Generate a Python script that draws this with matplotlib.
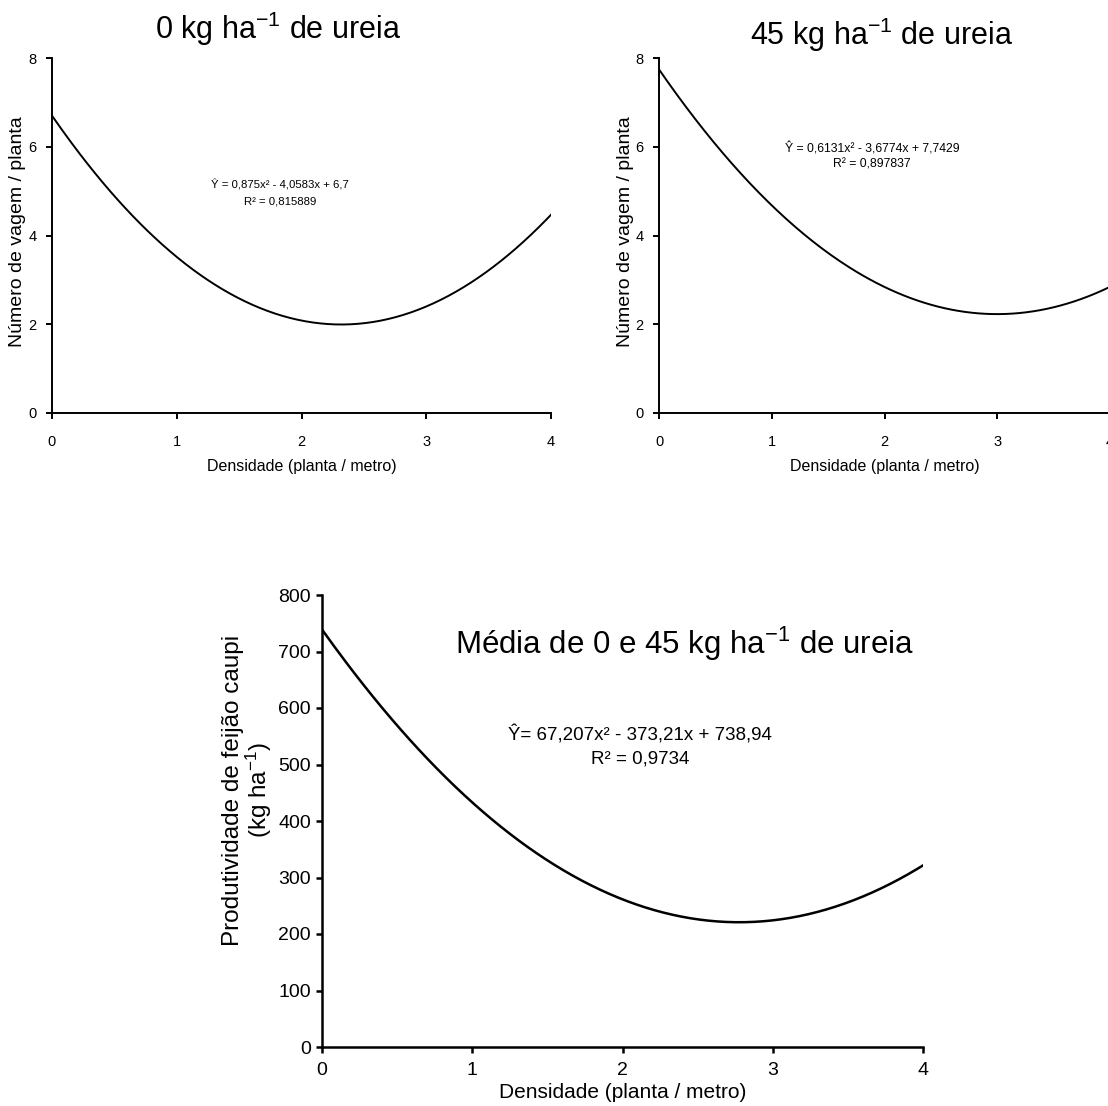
import numpy as np
import matplotlib
matplotlib.use("Agg")
import matplotlib.pyplot as plt

# fontes
plt.rcParams["font.family"] = ["Liberation Sans", "DejaVu Sans"]
plt.rcParams["mathtext.fontset"] = "custom"
plt.rcParams["mathtext.rm"] = "Liberation Sans"
plt.rcParams["mathtext.it"] = "Liberation Sans"

# dados: coeficientes das equações (a, b, c)
coef_0kg = [0.875, -4.0583, 6.7]
coef_45kg = [0.6131, -3.6774, 7.7429]
coef_media = [67.207, -373.21, 738.94]

x_ticks = [0, 1, 2, 3, 4]
y_ticks_vagem = [0, 2, 4, 6, 8]
y_ticks_prod = [0, 100, 200, 300, 400, 500, 600, 700, 800]

eq_0kg = "Ŷ = 0,875x² - 4,0583x + 6,7\nR² = 0,815889"
eq_45kg = "Ŷ = 0,6131x² - 3,6774x + 7,7429\nR² = 0,897837"
eq_media = "Ŷ= 67,207x² - 373,21x + 738,94\nR² = 0,9734"

W, H = 1108, 1106
fig = plt.figure(figsize=(W / 100, H / 100), dpi=100)


def eixo(l, r, t, b):
    return fig.add_axes([l / W, (H - b) / H, (r - l) / W, (b - t) / H])


def estilo(ax, ticksize, lw, xpad, ypad):
    for s in ["top", "right"]:
        ax.spines[s].set_visible(False)
    for s in ["left", "bottom"]:
        ax.spines[s].set_linewidth(lw)
    ax.tick_params(direction="out", length=4, width=lw, labelsize=ticksize)
    ax.tick_params(axis="x", pad=xpad)
    ax.tick_params(axis="y", pad=ypad)


xs = np.linspace(0, 4, 200)

# painel 0 kg
ax1 = eixo(52, 551, 58, 413)
ax1.plot(xs, np.polyval(coef_0kg, xs), color="black", lw=1.4)
ax1.set_xlim(0, 4)
ax1.set_ylim(0, 8)
ax1.set_xticks(x_ticks)
ax1.set_yticks(y_ticks_vagem)
estilo(ax1, 10.5, 1.4, 12, 7)
ax1.set_xlabel("Densidade (planta / metro)", fontsize=11.5, labelpad=7)
ax1.text(0.457, 0.62, eq_0kg, transform=ax1.transAxes, ha="center", va="center",
         fontsize=8.2, linespacing=1.8)
fig.text(18 / W, 1 - 232 / H, "Número de vagem / planta", rotation=90, ha="center", va="center", fontsize=14)
fig.text(278 / W, 1 - 29 / H, r"0 kg ha$^{\mathregular{-1}}$ de ureia", ha="center", va="center", fontsize=22)

# painel 45 kg
ax2 = eixo(659, 1110, 58, 413)
ax2.plot(xs, np.polyval(coef_45kg, xs), color="black", lw=1.4)
ax2.set_xlim(0, 4)
ax2.set_ylim(0, 8)
ax2.set_xticks(x_ticks)
ax2.set_yticks(y_ticks_vagem)
estilo(ax2, 10.5, 1.4, 12, 7)
ax2.set_xlabel("Densidade (planta / metro)", fontsize=11.5, labelpad=7)
ax2.text(0.472, 0.722, eq_45kg, transform=ax2.transAxes, ha="center", va="center",
         fontsize=8.8, linespacing=1.4)
fig.text(625 / W, 1 - 232 / H, "Número de vagem / planta", rotation=90, ha="center", va="center", fontsize=14)
fig.text(882 / W, 1 - 35 / H, r"45 kg ha$^{\mathregular{-1}}$ de ureia", ha="center", va="center", fontsize=22)

# painel média
ax3 = eixo(322, 923, 595, 1047)
ax3.plot(xs, np.polyval(coef_media, xs), color="black", lw=1.8)
ax3.set_xlim(0, 4)
ax3.set_ylim(0, 800)
ax3.set_xticks(x_ticks)
ax3.set_yticks(y_ticks_prod)
estilo(ax3, 14, 1.8, 7, 4)
ax3.set_xlabel("Densidade (planta / metro)", fontsize=15, labelpad=3)
ax3.text(0.529, 0.665, eq_media, transform=ax3.transAxes, ha="center", va="center",
         fontsize=13.5, linespacing=1.5)
ax3.text(0.603, 0.893, r"Média de 0 e 45 kg ha$^{\mathregular{-1}}$ de ureia", transform=ax3.transAxes,
         ha="center", va="center", fontsize=22.5)
fig.text(248 / W, 1 - 790 / H, "Produtividade de feijão caupi\n(kg ha$^{\\mathregular{-1}}$)", rotation=90,
         ha="center", va="center", fontsize=17.5, linespacing=0.95)

fig.savefig("out.png", dpi=100)
